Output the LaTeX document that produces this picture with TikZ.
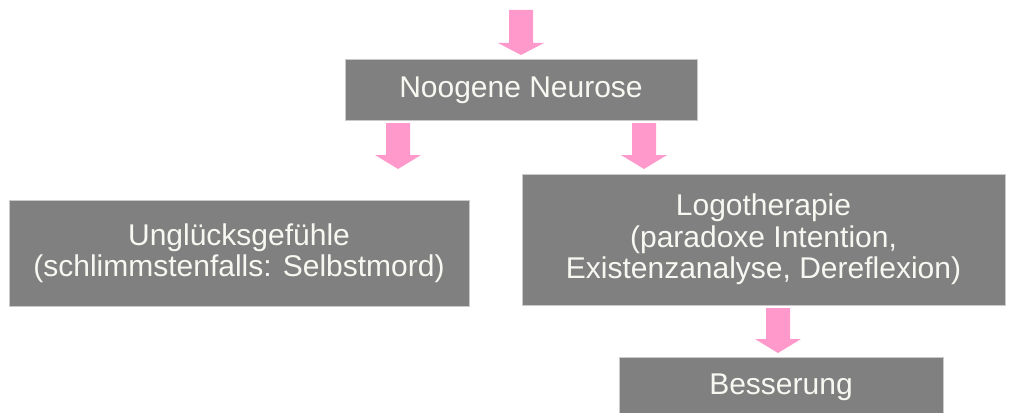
\documentclass[tikz,border=0pt]{standalone}
\usepackage{fontspec}
\setmainfont{Liberation Sans}
\definecolor{boxgray}{HTML}{808080}
\definecolor{boxedge}{HTML}{CACACA}
\definecolor{arrowpink}{HTML}{FF99CC}
\definecolor{textcol}{HTML}{F8F8F2}
\tikzset{
  box/.style={rectangle, fill=boxgray, draw=boxedge, line width=1pt, inner sep=0pt,
    text=textcol, align=center, font=\fontsize{30}{31.5}\selectfont},
  blockarrow/.style={fill=arrowpink, draw=none}
}
% #1 center x, #2 top y, #3 head start y, #4 tip y
\newcommand\pinkarrow[4]{%
  \fill[blockarrow] (#1-12,#2) -- (#1+12,#2) -- (#1+12,#3) -- (#1+23,#3) -- (#1,#4)
    -- (#1-23,#3) -- (#1-12,#3) -- cycle;}
\begin{document}
\begin{tikzpicture}[x=1pt,y=-1pt]
\useasboundingbox (0,0) rectangle (1019,412);
\clip (0,0) rectangle (1019,412);
\node[box, minimum width=352, minimum height=60] (noo) at (521,90) {Noogene Neurose};
\node[box, minimum width=460, minimum height=106] (ung) at (239,253) {Unglücksgefühle\\(schlimmstenfalls: Selbstmord)};
\node[box, minimum width=483, minimum height=131] (logo) at (763.5,239.5) {Logotherapie\\(paradoxe Intention,\\Existenzanalyse, Dereflexion)};
\node[box, minimum width=324, minimum height=60] (bes) at (781,387) {Besserung};
\pinkarrow{521}{10}{43}{55}
\pinkarrow{398}{123}{155}{169}
\pinkarrow{644}{123}{155}{169}
\pinkarrow{778}{308}{339}{353}
\end{tikzpicture}
\end{document}
